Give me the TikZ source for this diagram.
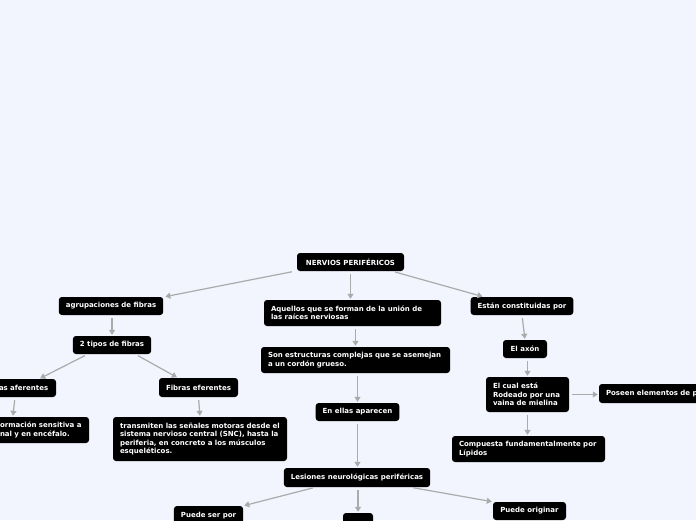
\documentclass[tikz,border=0pt]{standalone}
\usepackage{fontspec}
\usetikzlibrary{arrows.meta}
\newfontfamily\boxfont{DejaVu Sans}
\definecolor{bgc}{HTML}{F2F4FE}
\definecolor{linec}{HTML}{ABABAB}
\tikzset{
  box/.style={fill=black, rounded corners=3pt, text=white, inner xsep=7pt, inner ysep=0pt,
    font=\boxfont\bfseries\fontsize{7}{8.4}\selectfont, anchor=center},
  sbox/.style 2 args={box, minimum width=#1, minimum height=#2},
  mbox/.style 2 args={box, text width=#1-14pt, minimum height=#2, align=left},
  conn/.style={draw=linec, line width=1.2pt, -{Triangle[length=5pt,width=6pt]}, shorten <=3pt, shorten >=1pt}
}
\begin{document}
\begin{tikzpicture}[x=1pt,y=-1pt]
\fill[bgc] (0,0) rectangle (696,520);
\useasboundingbox (0,0) rectangle (696,520);

\node[sbox={107pt}{18pt}] (nerv) at (350.5,262) {NERVIOS PERIFÉRICOS};
\node[sbox={104pt}{18pt}] (agr) at (111,306) {agrupaciones de fibras};
\node[mbox={177pt}{26pt}] (aq) at (352.5,313) {Aquellos que se forman de la unión de\\las raíces nerviosas};
\node[sbox={102pt}{18pt}] (est) at (522,306) {Están constituidas por};
\node[sbox={78pt}{18pt}] (tipos) at (112,345) {2 tipos de fibras};
\node[mbox={64pt}{18pt}] (afer) at (24,388) {as aferentes};
\node[sbox={79pt}{19pt}] (efer) at (198.5,387.5) {Fibras eferentes};
\node[mbox={96pt}{26pt}] (sens) at (41,430) {ormación sensitiva a\\nal y en encéfalo.};
\node[mbox={174pt}{44pt}] (trans) at (200,439) {transmiten las señales motoras desde el\\sistema nervioso central (SNC), hasta la\\periferia, en concreto a los músculos\\esqueléticos.};
\node[mbox={189pt}{26pt}] (son) at (355.5,360) {Son estructuras complejas que se asemejan\\a un cordón grueso.};
\node[sbox={83pt}{18pt}] (ellas) at (357.5,412) {En ellas aparecen};
\node[sbox={146pt}{19pt}] (les) at (357,477.5) {Lesiones neurológicas periféricas};
\node[sbox={44pt}{18pt}] (axon) at (525,349) {El axón};
\node[mbox={83pt}{35pt}] (cual) at (527.5,394.5) {El cual está\\Rodeado por una\\vaina de mielina};
\node[mbox={136pt}{19pt}] (pos) at (667,393.5) {Poseen elementos de p};
\node[mbox={153pt}{26pt}] (comp) at (528.5,449) {Compuesta fundamentalmente por\\Lípidos};
\node[sbox={69pt}{20pt}] (pser) at (208.5,516) {Puede ser por};
\node[sbox={30pt}{19pt}] (mid) at (358,522.5) {};
\node[sbox={73pt}{18pt}] (orig) at (529.5,511) {Puede originar};

\draw[conn] ([xshift=-2pt]nerv.south west) -- ([xshift=1pt]agr.north east);
\draw[conn] (nerv.south) -- (nerv.south |- aq.north);
\draw[conn] ([xshift=-12pt]nerv.south east) -- ([xshift=13pt]est.north west);
\draw[conn] (tipos.north |- agr.south) -- (tipos.north);
\draw[conn] ([xshift=15pt]tipos.south west) -- ([xshift=-17pt]afer.north east);
\draw[conn] ([xshift=-16pt]tipos.south east) -- ([xshift=19pt]efer.north west);
\draw[conn] ([xshift=-9pt]afer.south) -- ([xshift=20pt]sens.north west);
\draw[conn] (efer.south) -- (trans.north);
\draw[conn] (son.north |- aq.south) -- (son.north);
\draw[conn] (ellas.north |- son.south) -- (ellas.north);
\draw[conn] (ellas.south) -- (ellas.south |- les.north);
\draw[conn] ([xshift=32pt]les.south west) -- (pser.north east);
\draw[conn] (mid.north |- les.south) -- (mid.north);
\draw[conn] ([xshift=-20pt]les.south east) -- (orig.north west);
\draw[conn] (est.south) -- (axon.north);
\draw[conn] (cual.north |- axon.south) -- (cual.north);
\draw[conn] (cual.east) -- (cual.east -| pos.west);
\draw[conn] (cual.south) -- (cual.south |- comp.north);
\end{tikzpicture}
\end{document}
